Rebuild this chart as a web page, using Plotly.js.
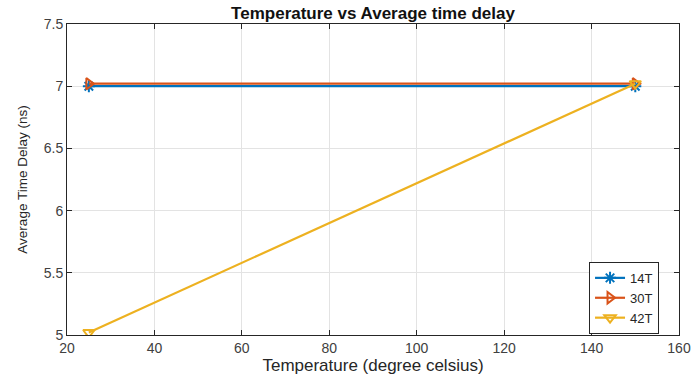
<!DOCTYPE html>
<html>
<head>
<meta charset="utf-8">
<script src="https://cdn.plot.ly/plotly-3.0.1.min.js"></script>
<style>html,body{margin:0;padding:0;background:#fff;}#chart{width:694px;height:378px;}</style>
</head>
<body>
<div id="chart"></div>
<script>
const temperature = [25, 150];
const series14T = [7.0, 7.0];
const series30T = [7.02, 7.02];
const series42T = [5.02, 7.02];
const seriesNames = ['14T', '30T', '42T'];
const xTicks = [20, 40, 60, 80, 100, 120, 140, 160];
const yTicks = [5, 5.5, 6, 6.5, 7, 7.5];
const yTickLabels = ['5', '5.5', '6', '6.5', '7', '7.5'];

const colors = ['#0072BD', '#D95319', '#EDB120'];
const symbols = ['asterisk-open', 'triangle-right-open', 'triangle-down-open'];
const ys = [series14T, series30T, series42T];

const traces = ys.map((y, i) => ({
  x: temperature, y: y, name: seriesNames[i], type: 'scatter', mode: 'lines+markers',
  line: {color: colors[i], width: 2.2},
  marker: {symbol: symbols[i], size: 10, color: colors[i], line: {color: colors[i], width: 2}}
}));

const FONT = 'Liberation Sans, Arial, sans-serif';
const axisCommon = {
  showline: true, mirror: 'ticks', linecolor: '#262626', linewidth: 1,
  ticks: 'inside', ticklen: 5, tickcolor: '#262626',
  showgrid: true, gridcolor: '#e3e3e3', gridwidth: 1, zeroline: false,
  tickfont: {family: FONT, size: 14, color: '#404040'}
};

const layout = {
  width: 694, height: 378,
  margin: {l: 67, r: 15, t: 24, b: 43},
  paper_bgcolor: '#fff', plot_bgcolor: '#fff',
  title: {text: '<b>Temperature vs Average time delay</b>', x: 0.5, xref: 'paper', xanchor: 'center', y: 0.966, yanchor: 'middle',
    font: {family: FONT, size: 17, color: '#111'}},
  xaxis: Object.assign({}, axisCommon, {
    range: [20, 160], tickvals: xTicks, ticktext: xTicks.map(String),
    title: {text: 'Temperature (degree celsius)', standoff: 1, font: {family: FONT, size: 17, color: '#262626'}}
  }),
  yaxis: Object.assign({}, axisCommon, {
    range: [5, 7.5], tickvals: yTicks, ticktext: yTickLabels,
    title: {text: 'Average Time Delay (ns)', standoff: 13, font: {family: FONT, size: 13.5, color: '#262626'}}
  }),
  showlegend: true,
  legend: {x: 0.853, y: 0.235, xanchor: 'left', yanchor: 'top', bgcolor: '#fff', bordercolor: '#262626', borderwidth: 1,
    font: {family: FONT, size: 13, color: '#262626'}, tracegroupgap: 0, itemwidth: 30}
};

Plotly.newPlot('chart', traces, layout, {displayModeBar: false, staticPlot: true});
</script>
</body>
</html>
